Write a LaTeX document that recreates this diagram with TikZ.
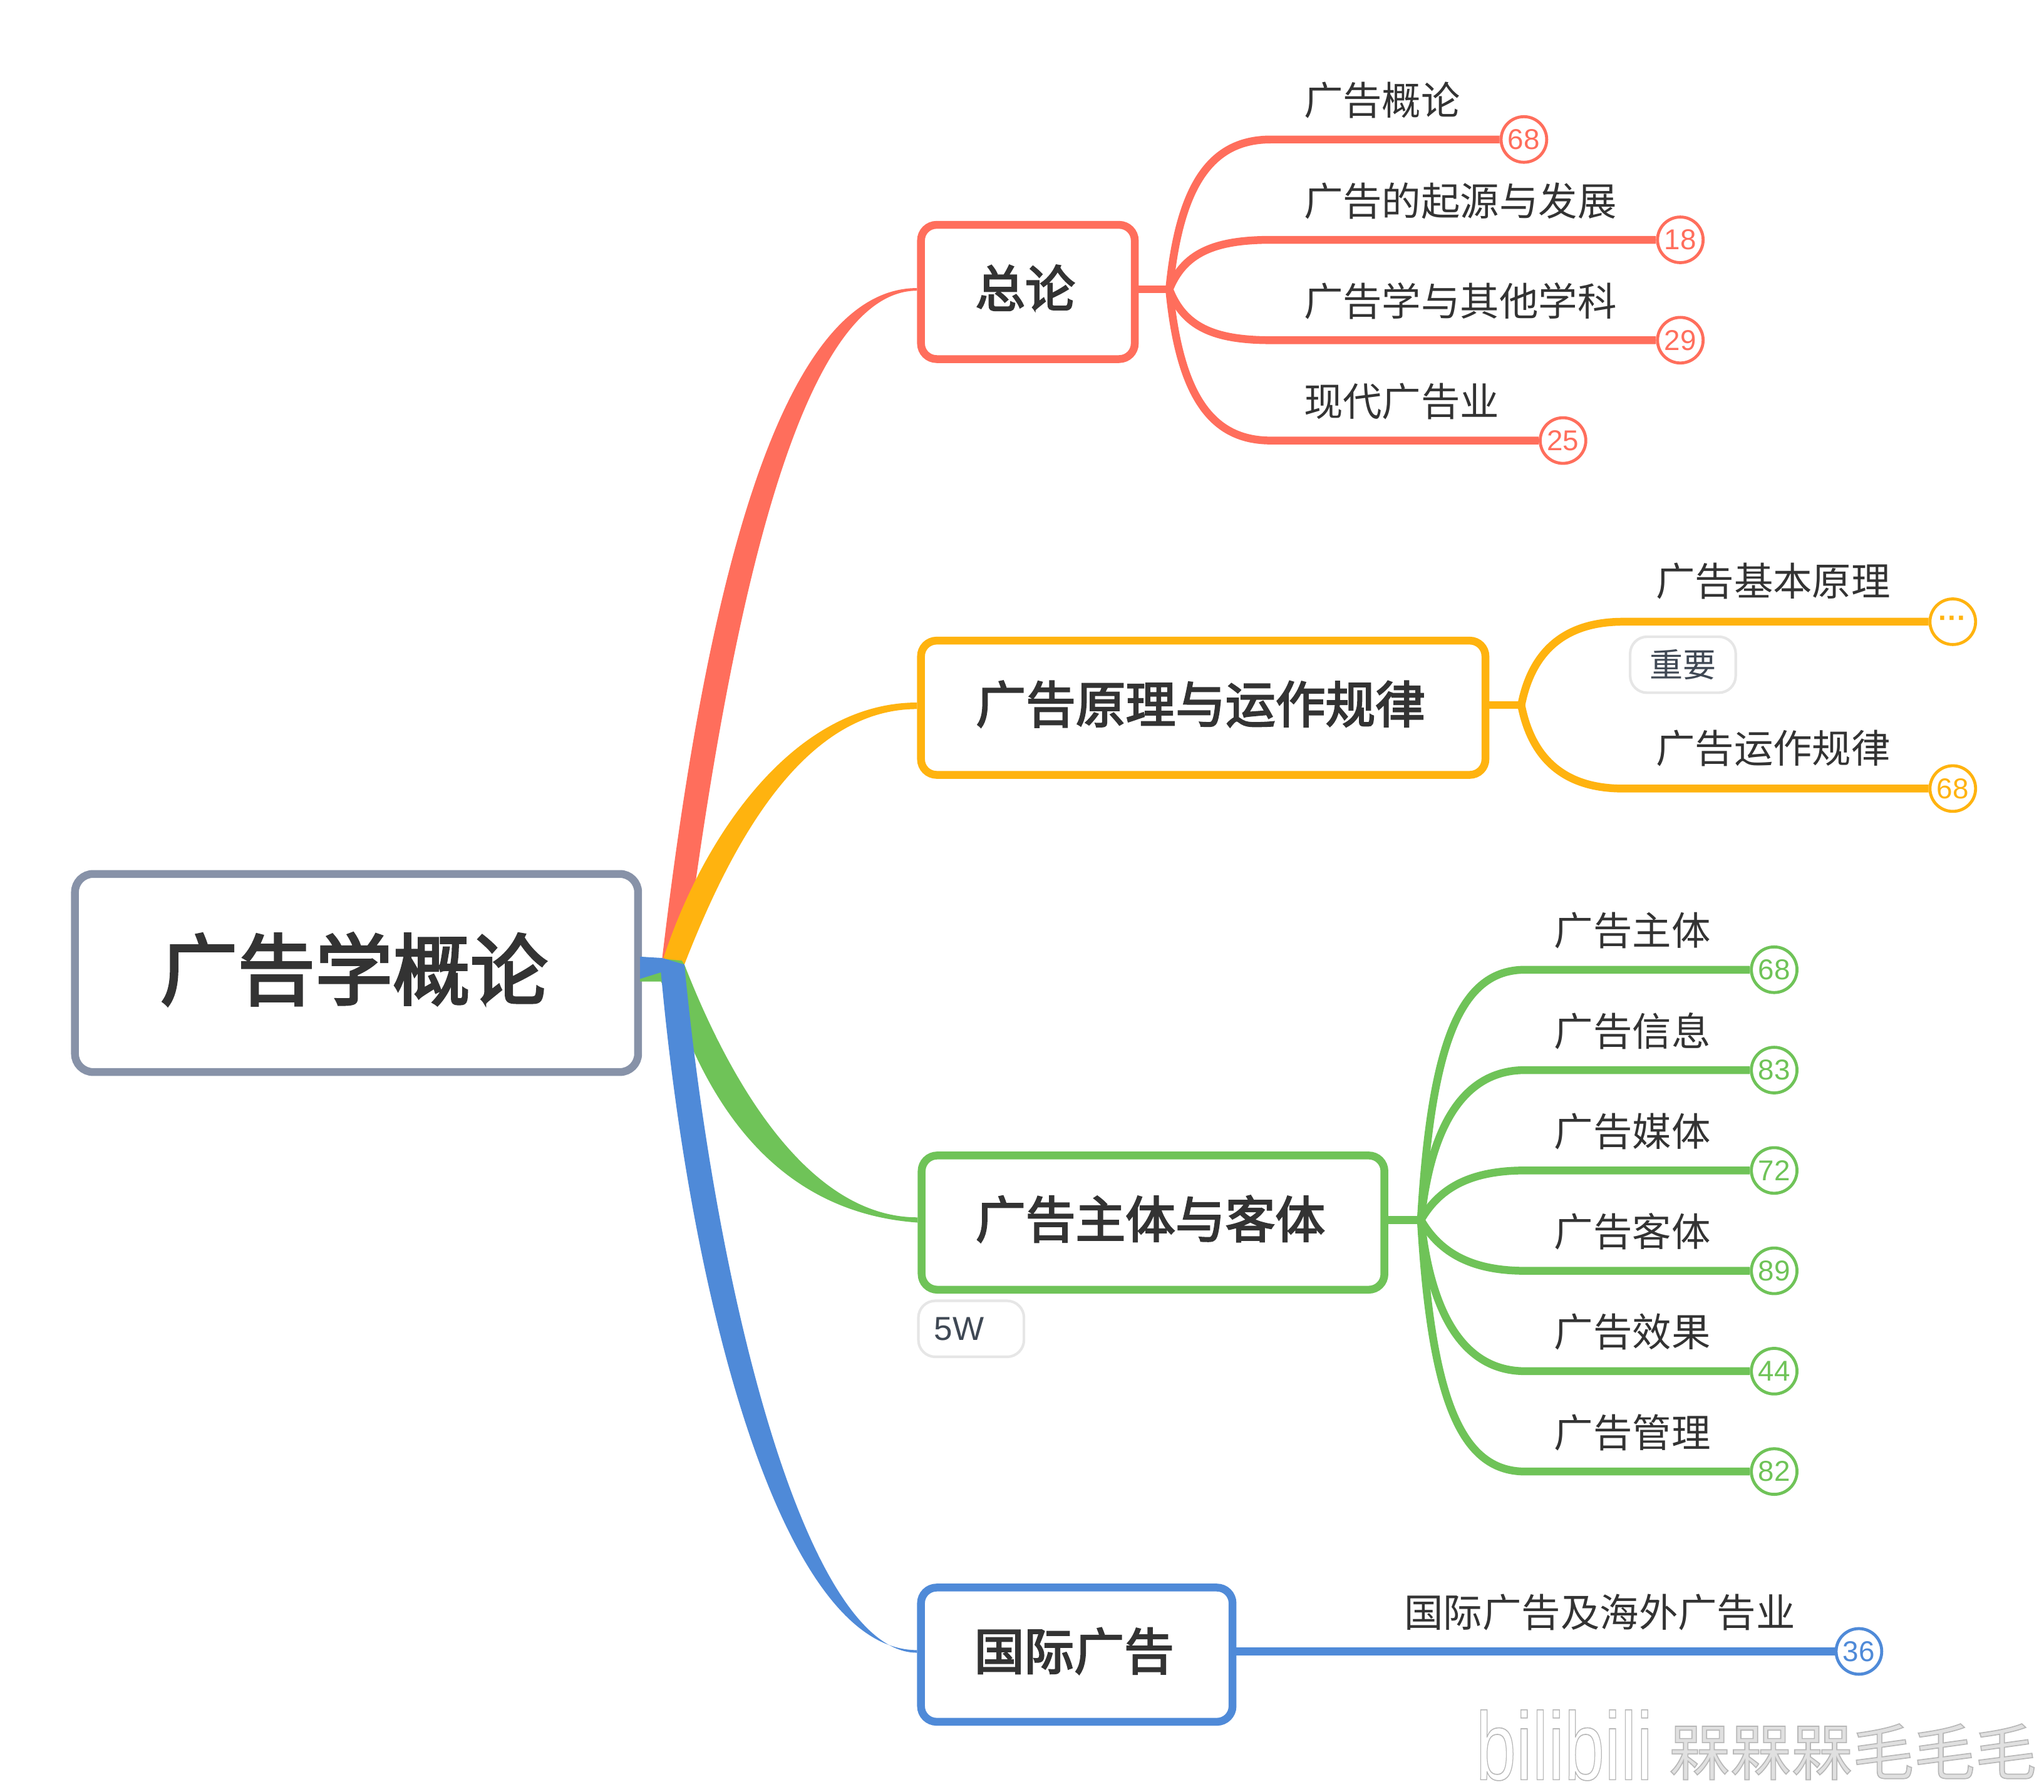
\documentclass[tikz,border=0pt]{standalone}
\usepackage{fontspec}
\usepackage{xcolor}
\setmainfont{Noto Sans CJK SC}
\newfontfamily\latinfont{Liberation Sans}
\newfontfamily\heavyfont[FakeBold=3]{Noto Sans CJK SC}
\usetikzlibrary{positioning}
\definecolor{inkc}{HTML}{333333}
\definecolor{rootc}{HTML}{8792A8}
\definecolor{redc}{HTML}{FF6E5C}
\definecolor{orangec}{HTML}{FFB30F}
\definecolor{greenc}{HTML}{6FC358}
\definecolor{bluec}{HTML}{4F8AD8}
\definecolor{tagc}{HTML}{E6E6E6}
\definecolor{tagtextc}{HTML}{3F4854}
\newcommand{\outlined}[1]{\special{pdf:code 0.72 G 0.8 w 2 Tr}#1\special{pdf:code 0 Tr}}
\tikzset{
  rootbox/.style={draw=rootc,fill=white,line width=6pt,rounded corners=14pt,text=inkc,
    minimum width=432pt,minimum height=152pt,inner sep=0pt,text depth=11pt,
    execute at begin node={\kern-4pt},font=\heavyfont\fontsize{59.5}{70}\selectfont},
  topicbox/.style={draw=#1,fill=white,line width=6pt,rounded corners=12pt,text=inkc,
    minimum height=103pt,inner sep=0pt,text depth=9pt,
    execute at begin node={\kern-4pt},font=\heavyfont\fontsize{38.3}{46}\selectfont},
  sublabel/.style={anchor=west,inner sep=0pt,text=inkc,font=\fontsize{30}{36}\selectfont},
  badge/.style={draw=#1,text=#1,fill=white,circle,line width=2.3pt,minimum size=35pt,inner sep=0pt,
    font=\latinfont\fontsize{22}{26}\selectfont},
  tagbox/.style={draw=tagc,fill=white,line width=2pt,rounded corners=13pt,text=tagtextc,
    minimum height=43pt,inner sep=0pt,font=\fontsize{25.5}{30}\selectfont},
  subline/.style={draw=#1,line width=6pt}
}
\begin{document}
\begin{tikzpicture}[x=1pt,y=-1pt]
  \useasboundingbox (0,0) rectangle (1568,1374.4);
  % main topics
  \node[rootbox] (root) at (273.5,746.5) {广告学概论};
  \node[topicbox=redc,minimum width=164pt] (zonglun) at (788.5,224) {总论};
  \node[topicbox=orangec,minimum width=433pt] (yuanli) at (923,543) {广告原理与运作规律};
  \node[topicbox=greenc,minimum width=355pt] (zhuti) at (884.5,938) {广告主体与客体};
  \node[topicbox=bluec,minimum width=239pt] (guoji) at (826,1269.5) {国际广告};
  % hub
  \coordinate (hubA) at (508,735);
  \coordinate (hubB) at (525,740);
  \coordinate (hubC) at (507,746);
  \coordinate (rootUp) at (491,734);
  \coordinate (rootDown) at (491,751);
  \coordinate (rootLow) at (491,753);
  % thick branches
  \fill[redc] (hubA) .. controls (537,490) and (590,221) .. ([yshift=3pt]zonglun.west)
    -- ([yshift=1pt]zonglun.west) .. controls (608,223) and (556,500) .. (hubB) -- cycle;
  \fill[orangec] (509,735) .. controls (540,640) and (610,539) .. ([yshift=4pt]yuanli.west)
    -- ([yshift=-1pt]yuanli.west) .. controls (615,544) and (560,650) .. (hubB) -- cycle;
  \fill[greenc] (rootUp) -- (523,737) -- (hubB) .. controls (560,830) and (620,934) .. ([yshift=4pt]zhuti.west)
    -- (zhuti.west) .. controls (620,932) and (560,880) .. (523,785) -- (507,753) -- (rootLow) -- cycle;
  \fill[bluec] (rootUp) -- (hubA) -- (hubB) .. controls (550,1000) and (620,1268) .. ([yshift=1.5pt]guoji.west)
    -- ([yshift=3.5pt]guoji.west) .. controls (600,1266) and (530,1000) .. (hubC) -- (rootDown) -- cycle;
  % knees and forks
  \coordinate (redFork) at (897,222);
  \coordinate (redKnee) at (975,222);
  \coordinate (orangeFork) at (1167,541);
  \coordinate (orangeKnee) at (1245,541);
  \coordinate (greenFork) at (1090,936);
  \coordinate (greenKnee) at (1170,936);
  % red leaves
  \node[sublabel] (gailun) at (1000,77) {广告概论};
  \node[sublabel] (qiyuan) at (1000,154) {广告的起源与发展};
  \node[sublabel] (xueke) at (1000,231) {广告学与其他学科};
  \node[sublabel] (xiandai) at (1000,308) {现代广告业};
  \node[badge=redc] (gailunB) at (1169,107) {68};
  \node[badge=redc] (qiyuanB) at (1289,184) {18};
  \node[badge=redc] (xuekeB) at (1289,261) {29};
  \node[badge=redc] (xiandaiB) at (1199,338) {25};
  \draw[subline=redc] (zonglun.east |- redFork) -- (redFork);
  \draw[subline=redc] (redFork) .. controls (905,140) and (930,107) .. (redKnee |- gailunB) -- (gailunB);
  \draw[subline=redc] (redFork) .. controls (908,195) and (930,184) .. (redKnee |- qiyuanB) -- (qiyuanB);
  \draw[subline=redc] (redFork) .. controls (908,250) and (930,261) .. (redKnee |- xuekeB) -- (xuekeB);
  \draw[subline=redc] (redFork) .. controls (905,305) and (930,338) .. (redKnee |- xiandaiB) -- (xiandaiB);
  % orange leaves
  \node[sublabel] (jiben) at (1270,446) {广告基本原理};
  \node[sublabel] (yunzuo) at (1270,574) {广告运作规律};
  \node[badge=orangec,font=\latinfont\bfseries\fontsize{22}{26}\selectfont] (jibenB) at (1498,477) {···};
  \node[badge=orangec] (yunzuoB) at (1498,605) {68};
  \node[tagbox,minimum width=81pt] (zhongyao) at (1291,510) {重要};
  \draw[subline=orangec] (yuanli.east |- orangeFork) -- (orangeFork);
  \draw[subline=orangec] (orangeFork) .. controls (1175,500) and (1200,477) .. (orangeKnee |- jibenB) -- (jibenB);
  \draw[subline=orangec] (orangeFork) .. controls (1175,582) and (1200,605) .. (orangeKnee |- yunzuoB) -- (yunzuoB);
  % green leaves
  \node[sublabel] (ztA) at (1192,714) {广告主体};
  \node[sublabel] (ztB) at (1192,791) {广告信息};
  \node[sublabel] (ztC) at (1192,868) {广告媒体};
  \node[sublabel] (ztD) at (1192,945) {广告客体};
  \node[sublabel] (ztE) at (1192,1022) {广告效果};
  \node[sublabel] (ztF) at (1192,1099) {广告管理};
  \node[badge=greenc] (ztAB) at (1361,744) {68};
  \node[badge=greenc] (ztBB) at (1361,821) {83};
  \node[badge=greenc] (ztCB) at (1361,898) {72};
  \node[badge=greenc] (ztDB) at (1361,975) {89};
  \node[badge=greenc] (ztEB) at (1361,1052) {44};
  \node[badge=greenc] (ztFB) at (1361,1129) {82};
  \node[tagbox,anchor=west,minimum width=81pt,text width=57pt,inner xsep=12pt,align=left,font=\latinfont\fontsize{25.5}{30}\selectfont] (wuW) at (703.5,1019.5) {5W};
  \draw[subline=greenc] (zhuti.east |- greenFork) -- (greenFork);
  \draw[subline=greenc] (greenFork) .. controls (1098,800) and (1120,744) .. (greenKnee |- ztAB) -- (ztAB);
  \draw[subline=greenc] (greenFork) .. controls (1098,860) and (1125,821) .. (greenKnee |- ztBB) -- (ztBB);
  \draw[subline=greenc] (greenFork) .. controls (1105,910) and (1130,898) .. (greenKnee |- ztCB) -- (ztCB);
  \draw[subline=greenc] (greenFork) .. controls (1105,962) and (1130,975) .. (greenKnee |- ztDB) -- (ztDB);
  \draw[subline=greenc] (greenFork) .. controls (1098,1012) and (1125,1052) .. (greenKnee |- ztEB) -- (ztEB);
  \draw[subline=greenc] (greenFork) .. controls (1098,1072) and (1120,1129) .. (greenKnee |- ztFB) -- (ztFB);
  % blue leaf
  \node[sublabel] (haiwai) at (1077,1237) {国际广告及海外广告业};
  \node[badge=bluec] (haiwaiB) at (1426,1267) {36};
  \draw[subline=bluec] (guoji.east |- haiwaiB) -- (haiwaiB);
  % watermark
  \node[anchor=west,inner sep=0pt,text=white,xscale=.75,font=\latinfont\fontsize{74}{80}\selectfont] (logo) at (1132,1339) {\outlined{bilibili}};
  \node[anchor=west,inner sep=0pt,text=black!12,font=\fontsize{47}{52}\selectfont] (author) at (1280,1344) {\outlined{槑槑槑毛毛毛}};
\end{tikzpicture}
\end{document}
